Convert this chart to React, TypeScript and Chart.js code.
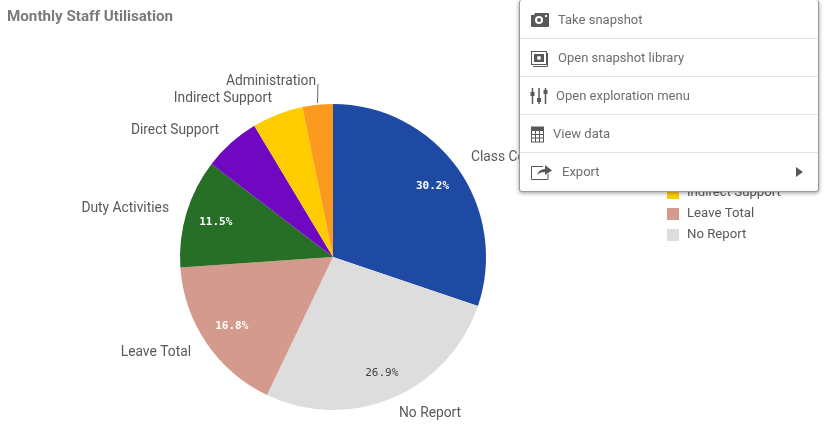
import React, { useEffect, useRef } from "react";
import { Chart, registerables } from "chart.js";

Chart.register(...registerables);

const titleText = "Monthly Staff Utilisation";
const categories = ["Class Contact", "No Report", "Leave Total", "Duty Activities", "Direct Support", "Indirect Support", "Administration"];
const values = [30.2, 26.9, 16.8, 11.5, 6.0, 5.4, 3.2];
const colors = ["#1f4aa3", "#dddddd", "#d39a8d", "#276e26", "#7008c2", "#ffcc00", "#fb9a1e"];
const percentColors = ["#ffffff", "#404040", "#ffffff", "#ffffff", "", "", ""];
const legendOrder = ["Administration", "Class Contact", "Direct Support", "Duty Activities", "Indirect Support", "Leave Total", "No Report"];
const menuItems = ["Take snapshot", "Open snapshot library", "Open exploration menu", "View data", "Export"];

const FONT = "Roboto, 'Noto Sans', sans-serif";
const MONO = "'DejaVu Sans Mono', monospace";

const outerLabelPos: Record<string, [number, number, CanvasTextAlign]> = {
  "Class Contact": [471, 158, "left"],
  "No Report": [399, 414, "left"],
  "Leave Total": [191, 353, "right"],
  "Duty Activities": [169, 209, "right"],
  "Direct Support": [219, 131, "right"],
  "Indirect Support": [272, 99, "right"],
  Administration: [316, 82, "right"],
};

const labelsPlugin = {
  id: "pieLabels",
  afterDatasetsDraw(chart: any) {
    const { ctx } = chart;
    const arcs = chart.getDatasetMeta(0).data;
    ctx.save();
    ctx.textBaseline = "middle";
    // title
    ctx.font = `bold 15.2px ${FONT}`;
    ctx.fillStyle = "#7b7b7b";
    ctx.textAlign = "left";
    ctx.fillText(titleText, 7, 17);
    // outer labels
    ctx.font = `13.8px ${FONT}`;
    ctx.fillStyle = "#595959";
    categories.forEach((c) => {
      const p = outerLabelPos[c];
      ctx.textAlign = p[2];
      ctx.fillText(c, p[0], p[1]);
    });
    // leader
    ctx.strokeStyle = "#666666";
    ctx.lineWidth = 1;
    ctx.beginPath();
    ctx.moveTo(318, 84);
    ctx.lineTo(317.5, 103);
    ctx.stroke();
    // percent labels
    ctx.textAlign = "center";
    arcs.forEach((arc: any, i: number) => {
      if (!percentColors[i]) return;
      const { startAngle, endAngle, outerRadius, x, y } = arc.getProps(["startAngle", "endAngle", "outerRadius", "x", "y"], true);
      const mid = (startAngle + endAngle) / 2;
      const r = outerRadius * (i === 1 ? 0.82 : 0.8);
      ctx.font = `${i === 1 ? "normal" : "bold"} 11px ${MONO}`;
      ctx.fillStyle = percentColors[i];
      ctx.fillText(values[i].toFixed(1) + "%", x + r * Math.cos(mid), y + r * Math.sin(mid) + 0.5);
    });
    // legend
    ctx.font = `13.2px ${FONT}`;
    ctx.textAlign = "left";
    legendOrder.forEach((c, i) => {
      const yy = 109 + i * 21;
      ctx.fillStyle = colors[categories.indexOf(c)];
      ctx.fillRect(667, yy - 6, 12, 12);
      ctx.fillStyle = "#595959";
      ctx.fillText(c, 687, yy);
    });
    ctx.restore();
  },
};

const iconStyle: React.CSSProperties = { position: "absolute", left: 10, top: 9 };
const ic = "#595959";
const icons = [
  <svg key="0" width="20" height="20" style={iconStyle}>
    <path d="M1 5 L4 5 L5 3 L18 3 Q19 3 19 4 L19 16 Q19 17 18 17 L2 17 Q1 17 1 16 Z" fill={ic} />
    <circle cx="9" cy="10" r="4" fill="#fff" />
    <circle cx="9" cy="10" r="2" fill={ic} />
    <rect x="15" y="5" width="2" height="2" fill="#fff" />
  </svg>,
  <svg key="1" width="20" height="20" style={iconStyle}>
    <rect x="1.5" y="3.5" width="15" height="13" fill="none" stroke={ic} />
    <path d="M17.5 5 V18.5 H3" fill="none" stroke={ic} />
    <rect x="4" y="6" width="10" height="8" fill={ic} />
    <circle cx="9" cy="10" r="2" fill="#fff" />
  </svg>,
  <svg key="2" width="20" height="20" style={iconStyle}>
    <g stroke={ic} strokeWidth="1.5" fill="none">
      <path d="M2.5 2 V18 M9 2 V18 M15.5 2 V18" />
    </g>
    <rect x="0.5" y="6" width="4" height="4" fill={ic} />
    <rect x="7" y="12" width="4" height="4" fill={ic} />
    <rect x="13.5" y="4" width="4" height="4" fill={ic} />
  </svg>,
  <svg key="3" width="20" height="20" style={iconStyle}>
    <rect x="1.5" y="3" width="12" height="15" fill="none" stroke={ic} />
    <rect x="1" y="3" width="13" height="4" fill={ic} />
    <path d="M2 10.5 H13 M2 14 H13 M5.5 7 V18 M9.5 7 V18" stroke={ic} />
  </svg>,
  <svg key="4" width="24" height="20" style={iconStyle}>
    <path d="M13 4.5 H1.5 V17.5 H18 V12" fill="none" stroke={ic} />
    <path d="M7 13 Q9 7 15 7 V3 L22 8.5 L15 13 V10 Q10 10 7 13 Z" fill={ic} />
  </svg>,
];
const textLeft = [38, 38, 36, 33, 42];

export default function App() {
  const ref = useRef<HTMLCanvasElement>(null);
  useEffect(() => {
    document.body.style.margin = "0";
    document.body.style.background = "#ffffff";
    const chart = new Chart(ref.current!, {
      type: "pie",
      data: {
        labels: categories,
        datasets: [{ data: values, backgroundColor: colors, borderWidth: 0 }],
      },
      options: {
        responsive: false,
        animation: false,
        devicePixelRatio: 1,
        layout: { padding: { left: 180, right: 347, top: 104, bottom: 26 } },
        plugins: { legend: { display: false }, tooltip: { enabled: false }, title: { display: false } },
      },
      plugins: [labelsPlugin],
    });
    return () => chart.destroy();
  }, []);

  return (
    <div style={{ position: "relative", width: 833, height: 436, overflow: "hidden", fontFamily: FONT }}>
      <canvas ref={ref} width={833} height={436} style={{ position: "absolute", left: 0, top: 0 }} />
      <div
        style={{
          position: "absolute",
          left: 519,
          top: 0,
          width: 300,
          height: 192,
          background: "#fff",
          border: "1px solid #9a9a9a",
          borderTop: "none",
          borderRadius: 3,
          boxShadow: "0 1px 4px rgba(0,0,0,0.4)",
          boxSizing: "border-box",
        }}
      >
        {menuItems.map((m, i) => (
          <div
            key={m}
            style={{
              position: "absolute",
              left: 0,
              right: 0,
              top: i * 38 + 1,
              height: 38,
              boxSizing: "border-box",
              borderBottom: i < 4 ? "1px solid #e3e3e3" : "none",
              color: "#6e6e6e",
              fontSize: 13,
              lineHeight: "38px",
            }}
          >
            {icons[i]}
            <span style={{ position: "absolute", left: textLeft[i] }}>{m}</span>
            {i === 4 && (
              <svg width="8" height="10" style={{ position: "absolute", right: 14, top: 14 }}>
                <path d="M0 0 L7 5 L0 10 Z" fill="#595959" />
              </svg>
            )}
          </div>
        ))}
      </div>
    </div>
  );
}
